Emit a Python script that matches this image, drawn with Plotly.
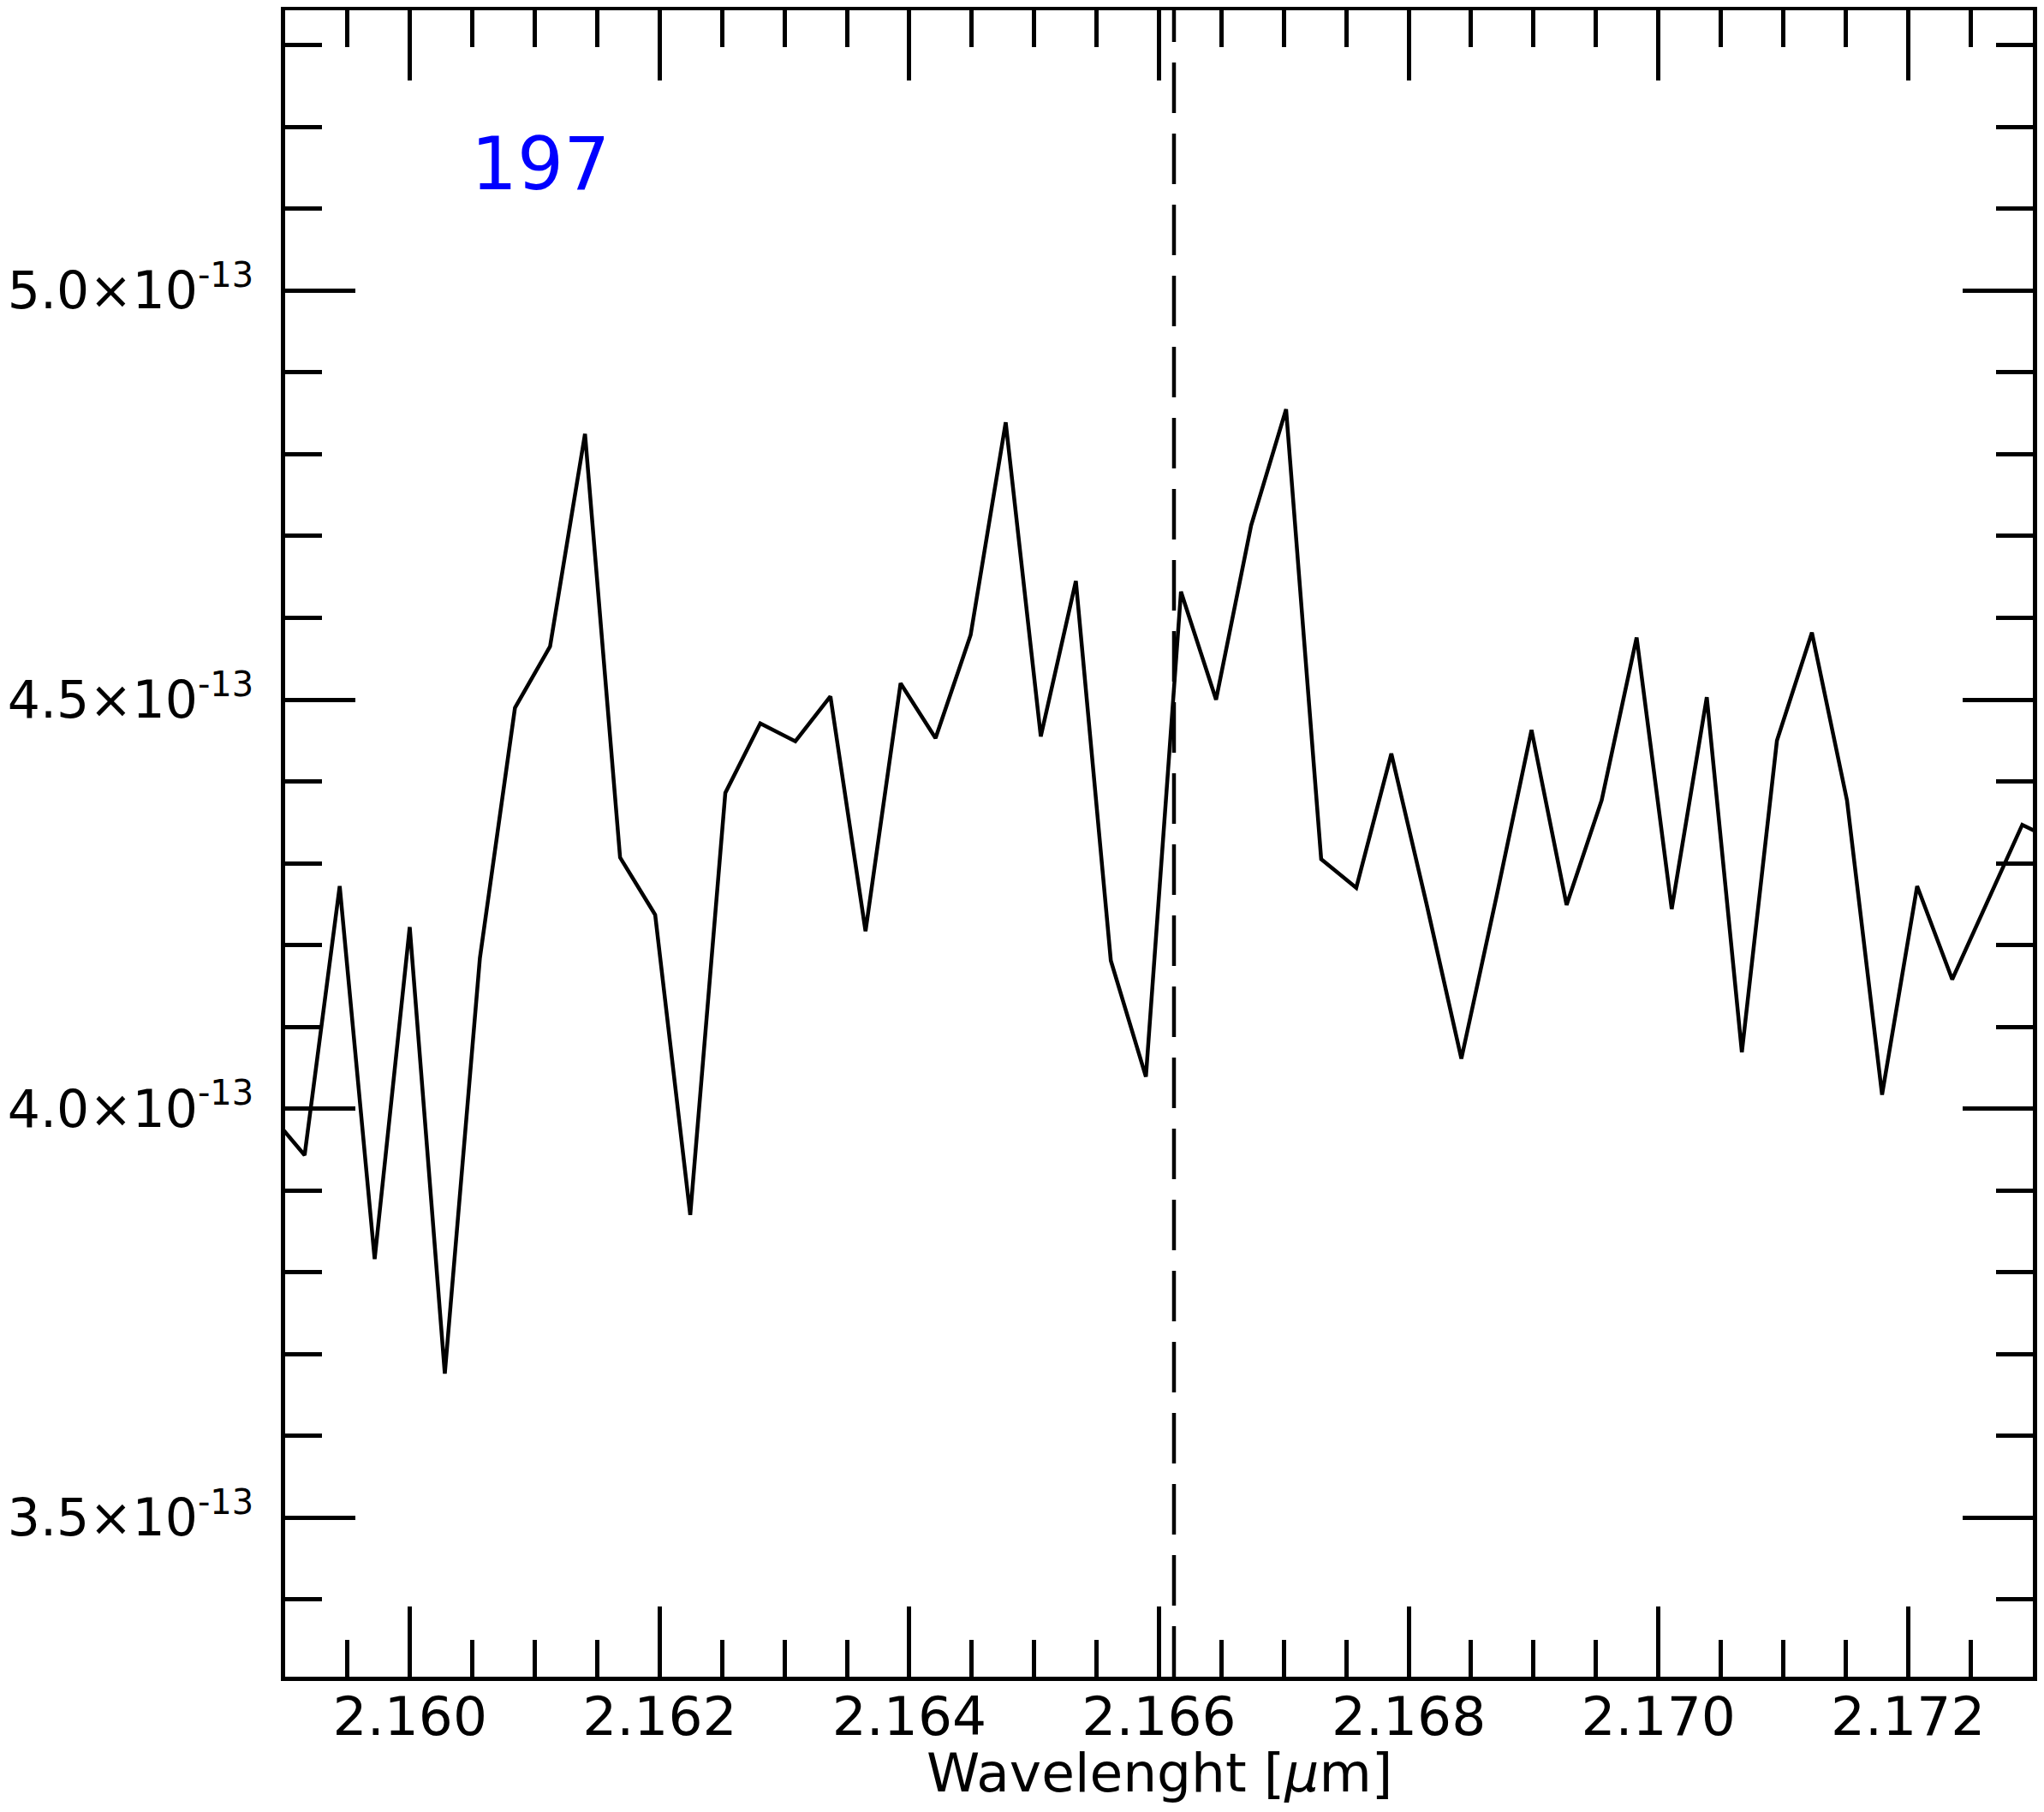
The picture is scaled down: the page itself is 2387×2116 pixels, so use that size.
import plotly.graph_objects as go

# Wavelength grid [µm]
wavelength = [
    2.158875, 2.159156, 2.159437, 2.159717, 2.159998, 2.160279, 2.160560, 2.160841,
    2.161122, 2.161402, 2.161683, 2.161964, 2.162245, 2.162526, 2.162806, 2.163087,
    2.163368, 2.163649, 2.163930, 2.164210, 2.164491, 2.164772, 2.165053, 2.165334,
    2.165614, 2.165895, 2.166176, 2.166457, 2.166738, 2.167018, 2.167299, 2.167580,
    2.167861, 2.168142, 2.168422, 2.168703, 2.168984, 2.169265, 2.169546, 2.169826,
    2.170107, 2.170388, 2.170669, 2.170950, 2.171230, 2.171511, 2.171792, 2.172073,
    2.172354, 2.172634, 2.172915, 2.173196,
]

# Flux values
flux = [
    3.994e-13, 3.943e-13, 4.272e-13, 3.816e-13, 4.222e-13, 3.676e-13, 4.184e-13, 4.490e-13,
    4.565e-13, 4.825e-13, 4.307e-13, 4.237e-13, 3.870e-13, 4.386e-13, 4.471e-13, 4.449e-13,
    4.504e-13, 4.217e-13, 4.520e-13, 4.453e-13, 4.579e-13, 4.839e-13, 4.455e-13, 4.645e-13,
    4.181e-13, 4.039e-13, 4.632e-13, 4.500e-13, 4.713e-13, 4.855e-13, 4.305e-13, 4.270e-13,
    4.434e-13, 4.251e-13, 4.061e-13, 4.259e-13, 4.463e-13, 4.249e-13, 4.377e-13, 4.576e-13,
    4.244e-13, 4.503e-13, 4.069e-13, 4.450e-13, 4.582e-13, 4.377e-13, 4.017e-13, 4.272e-13,
    4.158e-13, 4.251e-13, 4.347e-13, 4.326e-13,
]

brgamma = 2.16612  # reference line
label_text = "197"
x_title = "Wavelenght [<i>µ</i>m]"

x_tickvals = [2.160, 2.162, 2.164, 2.166, 2.168, 2.170, 2.172]
x_ticktext = ["2.160", "2.162", "2.164", "2.166", "2.168", "2.170", "2.172"]
y_tickvals = [3.5e-13, 4.0e-13, 4.5e-13, 5.0e-13]
y_mantissa = ["3.5", "4.0", "4.5", "5.0"]
y_exponent = "-13"
y_minorvals = [3.4e-13, 3.6e-13, 3.7e-13, 3.8e-13, 3.9e-13, 4.1e-13, 4.2e-13,
               4.3e-13, 4.4e-13, 4.6e-13, 4.7e-13, 4.8e-13, 4.9e-13, 5.1e-13,
               5.2e-13, 5.3e-13]

FONT = "DejaVu Sans"
y_ticktext = [f"{m}×10<sup><span style='font-size:40px'>{y_exponent}</span></sup>"
              for m in y_mantissa]

fig = go.Figure()
fig.add_trace(go.Scatter(
    x=wavelength, y=flux, mode="lines",
    line=dict(color="black", width=4.5),
    showlegend=False, hoverinfo="skip",
))

fig.add_vline(x=brgamma, line=dict(color="black", width=4.5, dash="59px,24px"))

fig.add_annotation(
    text=label_text, xref="paper", yref="paper", x=0.1053, y=0.9078,
    xanchor="left", yanchor="middle", showarrow=False,
    font=dict(family=FONT, size=85, color="#0000FF"),
)

# x-axis title
fig.add_annotation(
    text=x_title, xref="paper", yref="paper", x=0.5, y=-0.0576,
    xanchor="center", yanchor="middle", showarrow=False,
    font=dict(family=FONT, size=63, color="black"),
)

axis_common = dict(
    showline=True, linecolor="black", linewidth=4.5, mirror="ticks",
    ticks="inside", tickcolor="black", tickwidth=4.5, ticklen=82,
    showgrid=False, zeroline=False, automargin=False,
)

fig.update_xaxes(
    **axis_common,
    range=[2.159, 2.173],
    tickmode="array", tickvals=x_tickvals, ticktext=x_ticktext,
    tickfont=dict(family=FONT, size=63, color="black"),
    minor=dict(ticks="inside", ticklen=43, tickwidth=4.5, tickcolor="black",
               dtick=0.0005, tick0=2.1595, showgrid=False),
    ticklabelstandoff=-12,
)
fig.update_yaxes(
    **axis_common,
    range=[3.3055e-13, 5.3428e-13],
    tickmode="array", tickvals=y_tickvals, ticktext=y_ticktext,
    tickfont=dict(family=FONT, size=60, color="black"),
    minor=dict(ticks="inside", ticklen=43, tickwidth=4.5, tickcolor="black",
               tickmode="array", tickvals=y_minorvals, showgrid=False),
    ticklabelstandoff=20,
)

fig.update_layout(
    width=2371, height=2100,
    margin=dict(l=325, r=5, t=4, b=150),
    plot_bgcolor="white", paper_bgcolor="white",
    font=dict(family=FONT, color="black"),
)

fig.write_html("out.html")
